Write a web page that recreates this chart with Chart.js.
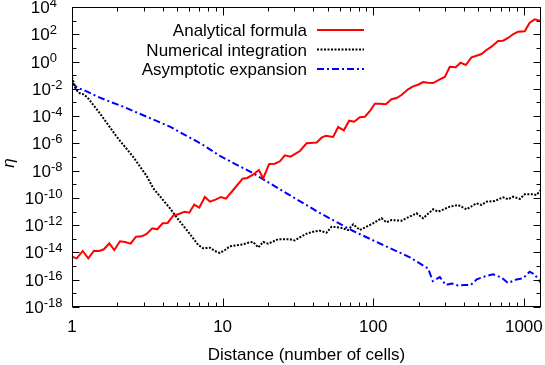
<!DOCTYPE html>
<html>
<head>
<meta charset="utf-8">
<script src="https://cdn.jsdelivr.net/npm/chart.js@4.4.1/dist/chart.umd.min.js"></script>
<style>
  html, body { margin: 0; padding: 0; background: #fff; }
  canvas { display: block; }
</style>
</head>
<body>
<canvas id="chart" width="545" height="365"></canvas>
<script>
// ---------- data ----------
const seriesNames = ["Analytical formula", "Numerical integration", "Asymptotic expansion"];

const analyticX = [1, 1.075, 1.178, 1.283, 1.40, 1.518, 1.63, 1.768, 1.909, 2.083,
  2.248, 2.452, 2.659, 2.901, 3.131, 3.411, 3.681, 3.999, 4.315, 4.701,
  5.129, 5.595, 6.003, 6.48, 6.994, 7.63, 8.237, 8.985, 9.743, 10.52,
  11.76, 13.57, 14.56, 15.82, 17.41, 18.6, 20.38, 22.23, 24.0, 25.91,
  28.27, 32.6, 36.1, 42.1, 45.4, 48.5, 54.2, 58.5, 63.8, 69.2,
  74.7, 81.5, 88.0, 94.9, 102.5, 110.6, 121.2, 132.3, 142.8, 154.1,
  170.4, 184.0, 198.6, 214.3, 231.4, 249.8, 276.7, 298.7, 322.4, 353.3,
  379.7, 411.7, 449.2, 484.9, 523.2, 564.9, 609.5, 674.4, 727.8, 785.7,
  847.8, 915.1, 1014, 1094, 1181, 1275, 1300];
const analyticY = [4.9e-15, 3.7e-15, 1.28e-14, 3.7e-15, 1.35e-14, 1.28e-14, 1.71e-14, 4.7e-14, 1.51e-14, 6.58e-14,
  5.85e-14, 4.4e-14, 1.43e-13, 1.53e-13, 2.26e-13, 5.92e-13, 5.0e-13, 1.37e-12, 1.45e-12, 4.97e-12,
  6.62e-12, 9.75e-12, 8.24e-12, 3.18e-11, 1.92e-11, 1.17e-10, 5.28e-11, 7.4e-11, 1.17e-10, 8.77e-11,
  3.81e-10, 2.56e-9, 2.89e-9, 4.8e-9, 1.11e-8, 2.65e-9, 3.07e-8, 3.23e-8, 4.84e-8, 1.33e-7,
  1.05e-7, 2.75e-7, 1.01e-6, 1.16e-6, 2.61e-6, 3.65e-6, 2.93e-6, 1.58e-5, 9.08e-6, 4.59e-5,
  3.88e-5, 8.15e-5, 9.03e-5, 2.29e-4, 8.11e-4, 8.1e-4, 7.33e-4, 1.71e-3, 2.12e-3, 3.52e-3,
  9.22e-3, 0.0153, 0.02, 0.0316, 0.0281, 0.0267, 0.0499, 0.0736, 0.419, 0.378,
  0.823, 0.558, 2.05, 2.69, 3.57, 7.03, 12.3, 32.1, 33.8, 53.3,
  99.5, 154, 165, 706, 1253, 989, 989];

const numericX = [1, 1.047, 1.101, 1.189, 1.264, 1.534, 1.98, 2.551, 3.131, 3.463,
  4.47, 5.208, 6.067, 6.889, 7.434, 8.237, 8.89, 9.596, 10.36, 11.18,
  12.69, 13.7, 14.79, 15.96, 17.23, 18.6, 20.07, 23.39, 27.97, 30.19,
  32.6, 36.1, 39.9, 44.2, 49.0, 52.9, 60.0, 68.2, 73.6, 81.5,
  90.3, 99.8, 113.5, 122.6, 132.3, 154.1, 170.4, 193.8, 214.3, 249.8,
  269.6, 322.4, 365.9, 415.9, 484.9, 523.2, 564.9, 641.1, 727.8, 785.7,
  847.8, 939.3, 1014, 1151, 1212, 1300];
const numericY = [0.0736, 0.0129, 5.19e-3, 3.96e-3, 2.39e-3, 1.55e-4, 3.08e-6, 1.0e-7, 4.05e-9, 5.07e-10,
  1.73e-11, 1.8e-12, 2.26e-13, 3.52e-14, 2.02e-14, 2.23e-14, 1.28e-14, 9.12e-15, 1.51e-14, 2.83e-14,
  3.52e-14, 3.96e-14, 5.2e-14, 5.85e-14, 2.31e-14, 5.85e-14, 4.4e-14, 9.4e-14, 9.25e-14, 7.55e-14,
  1.29e-13, 2.38e-13, 3.33e-13, 3.94e-13, 2.81e-13, 7.75e-13, 6.78e-13, 4.44e-13, 1.16e-12, 4.44e-13,
  7.75e-13, 1.37e-12, 3.2e-12, 1.63e-12, 2.4e-12, 2.13e-12, 3.79e-12, 7.45e-12, 3.2e-12, 1.46e-11,
  9.75e-12, 2.27e-11, 3.03e-11, 1.46e-11, 4.03e-11, 3.03e-11, 5.28e-11, 5.93e-11, 1.11e-10, 7.92e-11,
  1.23e-10, 8.32e-11, 1.84e-10, 1.84e-10, 1.64e-10, 3.81e-10];

const asymptoticX = [1, 1.079, 1.22, 1.488, 1.787, 2.19, 2.688, 3.463, 4.47, 5.769,
  7.434, 9.596, 15.96, 26.6, 44.2, 73.6, 110.6, 175.0, 231.4, 248.6,
  276.7, 303.3, 332.4, 365.9, 405.4, 444.2, 487.0, 550.4, 624.6, 710.3,
  785.7, 893.0, 987.9, 1094, 1181, 1300];
const asymptoticY = [0.0281, 0.0125, 7.28e-3, 2.6e-3, 1.14e-3, 4.89e-4, 1.84e-4, 5.62e-5, 1.67e-5, 3.6e-6,
  7.6e-7, 1.19e-7, 6.38e-9, 2.18e-10, 7.83e-12, 3.75e-13, 4.54e-14, 4.42e-15, 6.67e-16, 8.07e-17,
  1.58e-16, 4.1e-17, 5.3e-17, 3.78e-17, 4.1e-17, 4.1e-17, 1.07e-16, 1.73e-16, 2.5e-16, 1.46e-16,
  5.75e-17, 1.04e-16, 1.27e-16, 3.88e-16, 2.42e-16, 5.75e-17];

// axis labels
const xTickLabels = ["1", "10", "100", "1000"];
const yTickExponents = [4, 2, 0, -2, -4, -6, -8, -10, -12, -14, -16, -18];
const xTitle = "Distance (number of cells)";
const yTitle = "η";

const X_MIN = 1, X_MAX = 1300, Y_MIN = 1e-18, Y_MAX = 1e4;
const FONT = '"Liberation Sans", Arial, Helvetica, sans-serif';

function toPoints(xs, ys) {
  return xs.map((x, i) => ({ x: x, y: ys[i] }));
}

// ---------- gnuplot-like frame, ticks, labels, key ----------
const gnuplotFrame = {
  id: "gnuplotFrame",
  afterDraw(chart) {
    const ctx = chart.ctx;
    const a = chart.chartArea;
    const sx = chart.scales.x, sy = chart.scales.y;
    const L = Math.round(a.left) + 0.5, R = Math.round(a.right) - 0.5;
    const T = Math.round(a.top) + 0.5, B = Math.round(a.bottom) - 0.5;
    ctx.save();
    ctx.strokeStyle = "#000";
    ctx.lineWidth = 1;
    ctx.beginPath();

    // x ticks, inside, bottom and top
    for (let k = 0; k <= 3; k++) {
      for (let m = 1; m <= 9; m++) {
        const v = m * Math.pow(10, k);
        if (v > X_MAX) continue;
        const px = Math.round(sx.getPixelForValue(v)) + 0.5;
        const len = m === 1 ? 8 : 4;
        ctx.moveTo(px, B); ctx.lineTo(px, B - len);
        ctx.moveTo(px, T); ctx.lineTo(px, T + len);
      }
    }
    // y ticks, inside, left and right
    for (let e = -18; e <= 4; e++) {
      const py = Math.round(sy.getPixelForValue(Math.pow(10, e))) + 0.5;
      const len = e % 2 === 0 ? 7 : 4;
      ctx.moveTo(L, py); ctx.lineTo(L + len, py);
      ctx.moveTo(R, py); ctx.lineTo(R - len, py);
    }
    ctx.stroke();
    ctx.strokeRect(L, T, R - L, B - T);

    ctx.fillStyle = "#000";
    // x tick labels
    ctx.font = "17px " + FONT;
    ctx.textAlign = "center";
    ctx.textBaseline = "alphabetic";
    xTickLabels.forEach(t => {
      ctx.fillText(t, sx.getPixelForValue(Number(t)), 332);
    });

    // y tick labels 10^n
    yTickExponents.forEach(e => {
      const py = sy.getPixelForValue(Math.pow(10, e));
      const ex = String(e);
      ctx.font = "13px " + FONT;
      const wExp = ctx.measureText(ex).width;
      ctx.font = "17px " + FONT;
      const wBase = ctx.measureText("10").width;
      const right = e < 0 ? 62.5 : 57;
      ctx.textAlign = "left";
      ctx.fillText("10", right - wExp - wBase, py + 6);
      ctx.font = "13px " + FONT;
      ctx.fillText(ex, right - wExp, py);
    });

    // axis titles
    ctx.font = "17px " + FONT;
    ctx.textAlign = "center";
    ctx.fillText(xTitle, (a.left + a.right) / 2, 360);
    ctx.save();
    ctx.translate(14, 163);
    ctx.rotate(-Math.PI / 2);
    ctx.font = "italic 17px " + FONT;
    ctx.fillText(yTitle, 0, 0);
    ctx.restore();

    // key
    const rowsY = [30, 49.5, 69];
    chart.data.datasets.forEach((ds, i) => {
      const y = rowsY[i];
      ctx.font = "17px " + FONT;
      ctx.textAlign = "right";
      ctx.fillStyle = "#000";
      ctx.fillText(ds.label, 307, y + 6);
      ctx.beginPath();
      ctx.setLineDash(ds.borderDash || []);
      ctx.strokeStyle = ds.borderColor;
      ctx.lineWidth = ds.borderWidth;
      ctx.moveTo(317, y);
      ctx.lineTo(364, y);
      ctx.stroke();
    });
    ctx.setLineDash([]);
    ctx.restore();
  }
};

new Chart(document.getElementById("chart").getContext("2d"), {
  type: "line",
  data: {
    datasets: [
      {
        label: seriesNames[0],
        data: toPoints(analyticX, analyticY),
        borderColor: "#ff0000",
        borderWidth: 2,
        pointRadius: 0,
        tension: 0
      },
      {
        label: seriesNames[1],
        data: toPoints(numericX, numericY),
        borderColor: "#000000",
        borderWidth: 2,
        borderDash: [2, 1.5],
        pointRadius: 0,
        tension: 0
      },
      {
        label: seriesNames[2],
        data: toPoints(asymptoticX, asymptoticY),
        borderColor: "#0000ff",
        borderWidth: 2,
        borderDash: [7, 3, 2, 3],
        pointRadius: 0,
        tension: 0
      }
    ]
  },
  options: {
    responsive: false,
    animation: false,
    devicePixelRatio: 1,
    layout: { padding: { left: 72, right: 4, top: 7, bottom: 58 } },
    plugins: { legend: { display: false }, tooltip: { enabled: false } },
    scales: {
      x: { type: "logarithmic", min: X_MIN, max: X_MAX, display: false },
      y: { type: "logarithmic", min: Y_MIN, max: Y_MAX, display: false }
    }
  },
  plugins: [gnuplotFrame]
});
</script>
</body>
</html>
